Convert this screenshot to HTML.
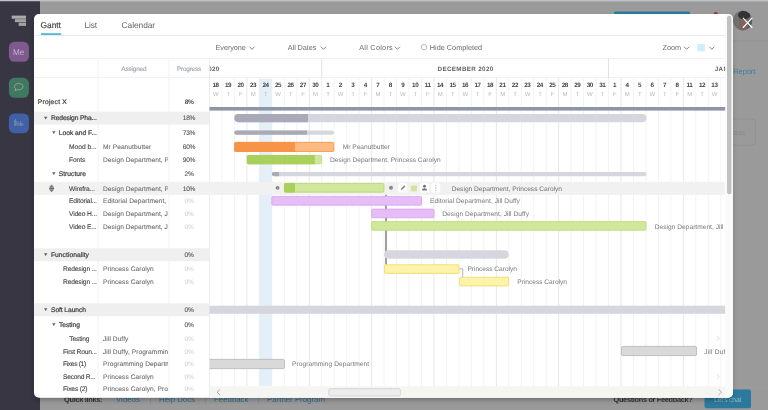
<!DOCTYPE html>
<html lang="en"><head><meta charset="utf-8"><title>Project X - Gantt</title>
<style>
html,body{margin:0;padding:0;}
body{width:768px;height:410px;overflow:hidden;position:relative;background:#9a9a9a;font-family:"Liberation Sans",sans-serif;}
.t{position:absolute;white-space:nowrap;line-height:normal;text-rendering:geometricPrecision;}
.l{position:absolute;left:0;top:0;overflow:hidden;}
.m{position:absolute;left:0;top:0;width:768px;height:410px;}
</style></head><body>
<svg class="l" width="768" height="410" viewBox="0 0 768 410"><rect x="0" y="0" width="768" height="1.4" fill="#bfc3c6"/><rect x="614" y="11.5" width="76.1" height="12" fill="#2b7a9e" rx="1.5"/><circle cx="715.8" cy="14.2" r="2.2" fill="#9c3549"/><rect x="40" y="40.6" width="728" height="0.8" fill="#929292"/><clipPath id="av"><ellipse cx="742.6" cy="20.6" rx="9.6" ry="9.9"/></clipPath><g clip-path="url(#av)"><rect x="732" y="10" width="22" height="22" fill="#717174"/><ellipse cx="750.2" cy="25.5" rx="3.6" ry="6" fill="#56575c"/><ellipse cx="743.3" cy="23" rx="5.2" ry="7.8" fill="#7d655e"/><ellipse cx="744.2" cy="15" rx="6.2" ry="4.4" fill="#333337"/></g></svg>
<span class="t" style="left:733.2px;top:67px;font-size:7.7px;color:#3f7f9f;letter-spacing:-0.18px;">Report</span>
<svg class="l" width="768" height="410" viewBox="0 0 768 410"><rect x="700" y="119" width="55.6" height="26.2" fill="none" rx="3.5" stroke="#8f8f8f" stroke-width="0.8"/></svg>
<span class="t" style="left:733.8px;top:131px;font-size:5.4px;color:#858585;letter-spacing:-0.20px;">2021</span>
<svg class="l" width="768" height="410" viewBox="0 0 768 410"><rect x="733" y="386.6" width="35" height="0.8" fill="#a0a0a0"/></svg>
<span class="t" style="left:64px;top:395px;font-size:7.4px;color:#3a3a3a;font-weight:700;letter-spacing:-0.31px;">Quick links:</span>
<span class="t" style="left:116px;top:395px;font-size:7.8px;color:#2f6f92;letter-spacing:0.06px;">Videos</span>
<span class="t" style="left:149.5px;top:395px;font-size:8px;color:#7a8a92;">|</span>
<span class="t" style="left:159px;top:395px;font-size:7.8px;color:#2f6f92;">Help Docs</span>
<span class="t" style="left:204.5px;top:395px;font-size:8px;color:#7a8a92;">|</span>
<span class="t" style="left:214px;top:395px;font-size:7.8px;color:#2f6f92;letter-spacing:0.03px;">Feedback</span>
<span class="t" style="left:257.5px;top:395px;font-size:8px;color:#7a8a92;">|</span>
<span class="t" style="left:267px;top:395px;font-size:7.8px;color:#2f6f92;letter-spacing:0.02px;">Partner Program</span>
<span class="t" style="left:613.5px;top:395px;font-size:7.4px;color:#3a3a3a;font-weight:700;letter-spacing:-0.33px;">Questions or Feedback?</span>
<svg class="l" width="768" height="410" viewBox="0 0 768 410"><rect x="704.5" y="389.6" width="46.5" height="18.6" fill="#2b7a9e" rx="2"/></svg>
<span class="t" style="left:714px;top:397px;font-size:6.9px;color:#8fb6c8;letter-spacing:-0.21px;">Let’s chat</span>
<svg class="l" width="768" height="410" viewBox="0 0 768 410"><rect x="0" y="1.3" width="40" height="409" fill="#393644"/><rect x="11.7" y="15.6" width="14.3" height="3.1" fill="#ababab"/><rect x="14.9" y="19.1" width="11.1" height="3.1" fill="#a2a2a2"/><rect x="18.7" y="22.7" width="7.3" height="3.2" fill="#a4a4a4"/><rect x="8.9" y="41.8" width="20" height="20" fill="#7e5a8f" rx="5.5"/></svg>
<span class="t" style="left:13px;top:48px;font-size:8.2px;color:#c2b1c9;letter-spacing:0.01px;">Me</span>
<svg class="l" width="768" height="410" viewBox="0 0 768 410"><rect x="8.9" y="77.8" width="20" height="20" fill="#3f7960" rx="5.5"/><path transform="translate(8.9 77.8)" d="M9.8 5.6c2.4 0 4.3 1.4 4.3 3.2s-1.9 3.2-4.3 3.2c-.5 0-1-.05-1.4-.17L6.2 12.9l.6-1.9C6 10.400 5.500 9.650 5.500 8.800c0-1.800 1.900-3.200 4.300-3.200z" fill="none" stroke="#b3a3a9" stroke-width="0.8"/><rect x="8.9" y="113.5" width="20" height="19.7" fill="#4160a8" rx="5.5"/><rect x="14.1" y="120.1" width="0.7" height="5.8" fill="#8da3ad" opacity="0.8"/><rect x="15.3" y="118.9" width="0.7" height="7" fill="#8da3ad" opacity="0.8"/><rect x="16.5" y="120.9" width="0.7" height="5" fill="#8da3ad" opacity="0.8"/><rect x="17.7" y="121.7" width="0.7" height="4.2" fill="#8da3ad" opacity="0.8"/><rect x="18.9" y="123.3" width="0.7" height="2.6" fill="#8da3ad" opacity="0.8"/><rect x="20.1" y="121.1" width="0.7" height="4.8" fill="#8da3ad" opacity="0.8"/><rect x="21.3" y="122.7" width="0.7" height="3.2" fill="#8da3ad" opacity="0.8"/><rect x="22.5" y="123.1" width="0.7" height="2.8" fill="#8da3ad" opacity="0.8"/></svg>
<div class="m" style="left:34.0px;top:14.0px;width:699.0px;height:383.7px;border-radius:5px;box-shadow:0 3px 5px -1px rgba(0,0,0,0.28);"></div>
<div class="m" style="clip-path:inset(14.0px 35.0px 12.3px 34.0px round 5px);">
<svg class="l" width="768" height="410" viewBox="0 0 768 410"><rect x="33" y="13" width="701" height="385.7" fill="#fff"/></svg>
<span class="t" style="left:40.5px;top:20px;font-size:8.4px;color:#444;letter-spacing:-0.01px;-webkit-text-stroke:0.15px #444;">Gantt</span>
<span class="t" style="left:84.6px;top:20px;font-size:8.4px;color:#666;letter-spacing:-0.16px;">List</span>
<span class="t" style="left:121.6px;top:20px;font-size:8.4px;color:#666;letter-spacing:-0.07px;">Calendar</span>
<svg class="l" width="768" height="410" viewBox="0 0 768 410"><rect x="41" y="33.2" width="20.2" height="1.9" fill="#53b7d6"/><rect x="34" y="35.2" width="699" height="0.9" fill="#e6e6e6"/></svg>
<span class="t" style="left:215.6px;top:43px;font-size:7.3px;color:#6d6d6d;letter-spacing:-0.09px;">Everyone</span>
<svg class="l" width="768" height="410" viewBox="0 0 768 410"><path d="M249.7 47 L252 49.3 L254.3 47" fill="none" stroke="#777" stroke-width="0.9" stroke-linecap="round" stroke-linejoin="round"/></svg>
<span class="t" style="left:287.8px;top:43px;font-size:7.3px;color:#6d6d6d;letter-spacing:-0.08px;">All Dates</span>
<svg class="l" width="768" height="410" viewBox="0 0 768 410"><path d="M321.1 47 L323.4 49.3 L325.7 47" fill="none" stroke="#777" stroke-width="0.9" stroke-linecap="round" stroke-linejoin="round"/></svg>
<span class="t" style="left:359.2px;top:43px;font-size:7.3px;color:#6d6d6d;letter-spacing:0.26px;">All Colors</span>
<svg class="l" width="768" height="410" viewBox="0 0 768 410"><path d="M395.1 47 L397.4 49.3 L399.7 47" fill="none" stroke="#777" stroke-width="0.9" stroke-linecap="round" stroke-linejoin="round"/><rect x="421.6" y="44.8" width="4.8" height="4.8" fill="#fff" rx="1" stroke="#a8a8a8" stroke-width="0.8"/></svg>
<span class="t" style="left:429.8px;top:43px;font-size:7.3px;color:#6d6d6d;letter-spacing:0.00px;">Hide Completed</span>
<span class="t" style="left:662.4px;top:43px;font-size:7.3px;color:#6d6d6d;letter-spacing:0.05px;">Zoom</span>
<svg class="l" width="768" height="410" viewBox="0 0 768 410"><path d="M684.3 47 L686.6 49.3 L688.9 47" fill="none" stroke="#777" stroke-width="0.9" stroke-linecap="round" stroke-linejoin="round"/><rect x="697.4" y="43.9" width="7.6" height="7.3" fill="#cdeefb" rx="1"/><path d="M709.5 47 L711.8 49.3 L714.1 47" fill="none" stroke="#777" stroke-width="0.9" stroke-linecap="round" stroke-linejoin="round"/><rect x="34" y="58" width="691.5" height="0.9" fill="#f1f1f1"/><rect x="34" y="77" width="691.5" height="0.9" fill="#f1f1f1"/></svg>
<span class="t" style="left:121.3px;top:66px;font-size:6.4px;color:#a0a3b0;letter-spacing:-0.15px;-webkit-text-stroke:0.12px #a0a3b0;">Assigned</span>
<span class="t" style="left:176.9px;top:66px;font-size:6.4px;color:#a0a3b0;letter-spacing:-0.19px;-webkit-text-stroke:0.12px #a0a3b0;">Progress</span>
<svg class="l" width="768" height="410" viewBox="0 0 768 410"><rect x="97.6" y="58.5" width="0.9" height="340" fill="#f1f1f1"/><rect x="168.6" y="58.5" width="0.9" height="340" fill="#f1f1f1"/><rect x="209" y="58.5" width="0.9" height="340" fill="#eaeaea"/><rect x="34" y="111.7" width="175.5" height="12.9" fill="#efefef"/><rect x="34" y="248.3" width="175.5" height="12.9" fill="#efefef"/><rect x="34" y="303.3" width="175.5" height="12.9" fill="#efefef"/><rect x="221.52" y="77.6" width="0.9" height="308.7" fill="#f2f2f2"/><rect x="233.99" y="77.6" width="0.9" height="308.7" fill="#f2f2f2"/><rect x="246.46" y="77.6" width="0.9" height="308.7" fill="#e5e5e5"/><rect x="258.93" y="77.6" width="0.9" height="308.7" fill="#f2f2f2"/><rect x="271.4" y="77.6" width="0.9" height="308.7" fill="#f2f2f2"/><rect x="283.87" y="77.6" width="0.9" height="308.7" fill="#f2f2f2"/><rect x="296.34" y="77.6" width="0.9" height="308.7" fill="#f2f2f2"/><rect x="308.81" y="77.6" width="0.9" height="308.7" fill="#e5e5e5"/><rect x="321.28" y="77.6" width="0.9" height="308.7" fill="#f2f2f2"/><rect x="333.75" y="77.6" width="0.9" height="308.7" fill="#f2f2f2"/><rect x="346.22" y="77.6" width="0.9" height="308.7" fill="#f2f2f2"/><rect x="358.69" y="77.6" width="0.9" height="308.7" fill="#f2f2f2"/><rect x="371.16" y="77.6" width="0.9" height="308.7" fill="#e5e5e5"/><rect x="383.63" y="77.6" width="0.9" height="308.7" fill="#f2f2f2"/><rect x="396.1" y="77.6" width="0.9" height="308.7" fill="#f2f2f2"/><rect x="408.57" y="77.6" width="0.9" height="308.7" fill="#f2f2f2"/><rect x="421.04" y="77.6" width="0.9" height="308.7" fill="#f2f2f2"/><rect x="433.51" y="77.6" width="0.9" height="308.7" fill="#e5e5e5"/><rect x="445.98" y="77.6" width="0.9" height="308.7" fill="#f2f2f2"/><rect x="458.45" y="77.6" width="0.9" height="308.7" fill="#f2f2f2"/><rect x="470.92" y="77.6" width="0.9" height="308.7" fill="#f2f2f2"/><rect x="483.39" y="77.6" width="0.9" height="308.7" fill="#f2f2f2"/><rect x="495.86" y="77.6" width="0.9" height="308.7" fill="#e5e5e5"/><rect x="508.33" y="77.6" width="0.9" height="308.7" fill="#f2f2f2"/><rect x="520.8" y="77.6" width="0.9" height="308.7" fill="#f2f2f2"/><rect x="533.27" y="77.6" width="0.9" height="308.7" fill="#f2f2f2"/><rect x="545.74" y="77.6" width="0.9" height="308.7" fill="#f2f2f2"/><rect x="558.21" y="77.6" width="0.9" height="308.7" fill="#e5e5e5"/><rect x="570.68" y="77.6" width="0.9" height="308.7" fill="#f2f2f2"/><rect x="583.15" y="77.6" width="0.9" height="308.7" fill="#f2f2f2"/><rect x="595.62" y="77.6" width="0.9" height="308.7" fill="#f2f2f2"/><rect x="608.09" y="77.6" width="0.9" height="308.7" fill="#f2f2f2"/><rect x="620.56" y="77.6" width="0.9" height="308.7" fill="#e5e5e5"/><rect x="633.03" y="77.6" width="0.9" height="308.7" fill="#f2f2f2"/><rect x="645.5" y="77.6" width="0.9" height="308.7" fill="#f2f2f2"/><rect x="657.97" y="77.6" width="0.9" height="308.7" fill="#f2f2f2"/><rect x="670.44" y="77.6" width="0.9" height="308.7" fill="#f2f2f2"/><rect x="682.91" y="77.6" width="0.9" height="308.7" fill="#e5e5e5"/><rect x="695.38" y="77.6" width="0.9" height="308.7" fill="#f2f2f2"/><rect x="707.85" y="77.6" width="0.9" height="308.7" fill="#f2f2f2"/><rect x="720.32" y="77.6" width="0.9" height="308.7" fill="#f2f2f2"/><rect x="259.08" y="78.6" width="12.97" height="307.7" fill="#e4eff8"/><rect x="321.28" y="58.5" width="0.9" height="19" fill="#dedede"/><rect x="608.09" y="58.5" width="0.9" height="19" fill="#dedede"/></svg>
<span class="t" style="left:212.56px;top:82px;font-size:6.3px;color:#454545;font-weight:700;letter-spacing:-0.45px;">18</span>
<span class="t" style="left:213px;top:92px;font-size:6px;color:#b9b9b9;">W</span>
<span class="t" style="left:225.03px;top:82px;font-size:6.3px;color:#454545;font-weight:700;letter-spacing:-0.45px;">19</span>
<span class="t" style="left:226.47px;top:92px;font-size:6px;color:#b9b9b9;">T</span>
<span class="t" style="left:237.5px;top:82px;font-size:6.3px;color:#454545;font-weight:700;letter-spacing:-0.45px;">20</span>
<span class="t" style="left:238.94px;top:92px;font-size:6px;color:#b9b9b9;">F</span>
<span class="t" style="left:249.97px;top:82px;font-size:6.3px;color:#454545;font-weight:700;letter-spacing:-0.45px;">23</span>
<span class="t" style="left:250.75px;top:92px;font-size:6px;color:#b9b9b9;">M</span>
<span class="t" style="left:262.44px;top:82px;font-size:6.3px;color:#454545;font-weight:700;letter-spacing:-0.45px;">24</span>
<span class="t" style="left:263.88px;top:92px;font-size:6px;color:#b9b9b9;">T</span>
<span class="t" style="left:274.91px;top:82px;font-size:6.3px;color:#454545;font-weight:700;letter-spacing:-0.45px;">25</span>
<span class="t" style="left:275.35px;top:92px;font-size:6px;color:#b9b9b9;">W</span>
<span class="t" style="left:287.38px;top:82px;font-size:6.3px;color:#454545;font-weight:700;letter-spacing:-0.45px;">26</span>
<span class="t" style="left:288.82px;top:92px;font-size:6px;color:#b9b9b9;">T</span>
<span class="t" style="left:299.85px;top:82px;font-size:6.3px;color:#454545;font-weight:700;letter-spacing:-0.45px;">27</span>
<span class="t" style="left:301.29px;top:92px;font-size:6px;color:#b9b9b9;">F</span>
<span class="t" style="left:312.32px;top:82px;font-size:6.3px;color:#454545;font-weight:700;letter-spacing:-0.45px;">30</span>
<span class="t" style="left:313.1px;top:92px;font-size:6px;color:#b9b9b9;">M</span>
<span class="t" style="left:326.31px;top:82px;font-size:6.3px;color:#454545;font-weight:700;letter-spacing:-0.45px;">1</span>
<span class="t" style="left:326.23px;top:92px;font-size:6px;color:#b9b9b9;">T</span>
<span class="t" style="left:338.78px;top:82px;font-size:6.3px;color:#454545;font-weight:700;letter-spacing:-0.45px;">2</span>
<span class="t" style="left:337.7px;top:92px;font-size:6px;color:#b9b9b9;">W</span>
<span class="t" style="left:351.25px;top:82px;font-size:6.3px;color:#454545;font-weight:700;letter-spacing:-0.45px;">3</span>
<span class="t" style="left:351.17px;top:92px;font-size:6px;color:#b9b9b9;">T</span>
<span class="t" style="left:363.72px;top:82px;font-size:6.3px;color:#454545;font-weight:700;letter-spacing:-0.45px;">4</span>
<span class="t" style="left:363.64px;top:92px;font-size:6px;color:#b9b9b9;">F</span>
<span class="t" style="left:376.19px;top:82px;font-size:6.3px;color:#454545;font-weight:700;letter-spacing:-0.45px;">7</span>
<span class="t" style="left:375.45px;top:92px;font-size:6px;color:#b9b9b9;">M</span>
<span class="t" style="left:388.66px;top:82px;font-size:6.3px;color:#454545;font-weight:700;letter-spacing:-0.45px;">8</span>
<span class="t" style="left:388.58px;top:92px;font-size:6px;color:#b9b9b9;">T</span>
<span class="t" style="left:401.13px;top:82px;font-size:6.3px;color:#454545;font-weight:700;letter-spacing:-0.45px;">9</span>
<span class="t" style="left:400.05px;top:92px;font-size:6px;color:#b9b9b9;">W</span>
<span class="t" style="left:412.08px;top:82px;font-size:6.3px;color:#454545;font-weight:700;letter-spacing:-0.45px;">10</span>
<span class="t" style="left:413.52px;top:92px;font-size:6px;color:#b9b9b9;">T</span>
<span class="t" style="left:424.72px;top:82px;font-size:6.3px;color:#454545;font-weight:700;letter-spacing:-0.45px;">11</span>
<span class="t" style="left:425.99px;top:92px;font-size:6px;color:#b9b9b9;">F</span>
<span class="t" style="left:437.02px;top:82px;font-size:6.3px;color:#454545;font-weight:700;letter-spacing:-0.45px;">14</span>
<span class="t" style="left:437.8px;top:92px;font-size:6px;color:#b9b9b9;">M</span>
<span class="t" style="left:449.49px;top:82px;font-size:6.3px;color:#454545;font-weight:700;letter-spacing:-0.45px;">15</span>
<span class="t" style="left:450.93px;top:92px;font-size:6px;color:#b9b9b9;">T</span>
<span class="t" style="left:461.96px;top:82px;font-size:6.3px;color:#454545;font-weight:700;letter-spacing:-0.45px;">16</span>
<span class="t" style="left:462.4px;top:92px;font-size:6px;color:#b9b9b9;">W</span>
<span class="t" style="left:474.43px;top:82px;font-size:6.3px;color:#454545;font-weight:700;letter-spacing:-0.45px;">17</span>
<span class="t" style="left:475.87px;top:92px;font-size:6px;color:#b9b9b9;">T</span>
<span class="t" style="left:486.9px;top:82px;font-size:6.3px;color:#454545;font-weight:700;letter-spacing:-0.45px;">18</span>
<span class="t" style="left:488.34px;top:92px;font-size:6px;color:#b9b9b9;">F</span>
<span class="t" style="left:499.37px;top:82px;font-size:6.3px;color:#454545;font-weight:700;letter-spacing:-0.45px;">21</span>
<span class="t" style="left:500.15px;top:92px;font-size:6px;color:#b9b9b9;">M</span>
<span class="t" style="left:511.84px;top:82px;font-size:6.3px;color:#454545;font-weight:700;letter-spacing:-0.45px;">22</span>
<span class="t" style="left:513.28px;top:92px;font-size:6px;color:#b9b9b9;">T</span>
<span class="t" style="left:524.31px;top:82px;font-size:6.3px;color:#454545;font-weight:700;letter-spacing:-0.45px;">23</span>
<span class="t" style="left:524.75px;top:92px;font-size:6px;color:#b9b9b9;">W</span>
<span class="t" style="left:536.78px;top:82px;font-size:6.3px;color:#454545;font-weight:700;letter-spacing:-0.45px;">24</span>
<span class="t" style="left:538.22px;top:92px;font-size:6px;color:#b9b9b9;">T</span>
<span class="t" style="left:549.25px;top:82px;font-size:6.3px;color:#454545;font-weight:700;letter-spacing:-0.45px;">25</span>
<span class="t" style="left:550.69px;top:92px;font-size:6px;color:#b9b9b9;">F</span>
<span class="t" style="left:561.72px;top:82px;font-size:6.3px;color:#454545;font-weight:700;letter-spacing:-0.45px;">28</span>
<span class="t" style="left:562.5px;top:92px;font-size:6px;color:#b9b9b9;">M</span>
<span class="t" style="left:574.19px;top:82px;font-size:6.3px;color:#454545;font-weight:700;letter-spacing:-0.45px;">29</span>
<span class="t" style="left:575.63px;top:92px;font-size:6px;color:#b9b9b9;">T</span>
<span class="t" style="left:586.66px;top:82px;font-size:6.3px;color:#454545;font-weight:700;letter-spacing:-0.45px;">30</span>
<span class="t" style="left:587.1px;top:92px;font-size:6px;color:#b9b9b9;">W</span>
<span class="t" style="left:599.13px;top:82px;font-size:6.3px;color:#454545;font-weight:700;letter-spacing:-0.45px;">31</span>
<span class="t" style="left:600.57px;top:92px;font-size:6px;color:#b9b9b9;">T</span>
<span class="t" style="left:613.12px;top:82px;font-size:6.3px;color:#454545;font-weight:700;letter-spacing:-0.45px;">1</span>
<span class="t" style="left:613.04px;top:92px;font-size:6px;color:#b9b9b9;">F</span>
<span class="t" style="left:625.59px;top:82px;font-size:6.3px;color:#454545;font-weight:700;letter-spacing:-0.45px;">4</span>
<span class="t" style="left:624.85px;top:92px;font-size:6px;color:#b9b9b9;">M</span>
<span class="t" style="left:638.06px;top:82px;font-size:6.3px;color:#454545;font-weight:700;letter-spacing:-0.45px;">5</span>
<span class="t" style="left:637.98px;top:92px;font-size:6px;color:#b9b9b9;">T</span>
<span class="t" style="left:650.53px;top:82px;font-size:6.3px;color:#454545;font-weight:700;letter-spacing:-0.45px;">6</span>
<span class="t" style="left:649.45px;top:92px;font-size:6px;color:#b9b9b9;">W</span>
<span class="t" style="left:663px;top:82px;font-size:6.3px;color:#454545;font-weight:700;letter-spacing:-0.45px;">7</span>
<span class="t" style="left:662.92px;top:92px;font-size:6px;color:#b9b9b9;">T</span>
<span class="t" style="left:675.47px;top:82px;font-size:6.3px;color:#454545;font-weight:700;letter-spacing:-0.45px;">8</span>
<span class="t" style="left:675.39px;top:92px;font-size:6px;color:#b9b9b9;">F</span>
<span class="t" style="left:686.59px;top:82px;font-size:6.3px;color:#454545;font-weight:700;letter-spacing:-0.45px;">11</span>
<span class="t" style="left:687.2px;top:92px;font-size:6px;color:#b9b9b9;">M</span>
<span class="t" style="left:698.89px;top:82px;font-size:6.3px;color:#454545;font-weight:700;letter-spacing:-0.45px;">12</span>
<span class="t" style="left:700.33px;top:92px;font-size:6px;color:#b9b9b9;">T</span>
<span class="t" style="left:711.36px;top:82px;font-size:6.3px;color:#454545;font-weight:700;letter-spacing:-0.45px;">13</span>
<span class="t" style="left:711.8px;top:92px;font-size:6px;color:#b9b9b9;">W</span>
<div class="m" style="clip-path:inset(58px 42.6px 333px 209.9px);">
<span class="t" style="left:163.6px;top:66px;font-size:6.3px;color:#646464;font-weight:700;letter-spacing:0.29px;">NOVEMBER 2020</span>
<span class="t" style="left:437.6px;top:66px;font-size:6.3px;color:#646464;font-weight:700;letter-spacing:0.32px;">DECEMBER 2020</span>
<span class="t" style="left:714.8px;top:66px;font-size:6.3px;color:#646464;font-weight:700;letter-spacing:0.32px;">JANUARY 2021</span>
</div>
<svg class="l" width="768" height="410" viewBox="0 0 768 410"><rect x="34" y="181.9" width="691.4" height="12.9" fill="#f1f1f1"/><rect x="209.5" y="107" width="515.9" height="3.6" fill="#8c97a3"/><clipPath id="gv"><rect x="209.5" y="58" width="515.9" height="340"/></clipPath><g clip-path="url(#gv)"><rect x="385.35" y="194.8" width="1.3" height="69.8" fill="#6e6e6e"/><path d="M459.4 268.8 H462.7 V277.2" fill="none" stroke="#9a9a9a" stroke-width="0.7"/><rect x="234.3" y="114" width="412.2" height="8.2" fill="#d6d6df" rx="4.1"/><path d="M238.4 114 H308 V122.2 H238.4 A4.1 4.1 0 0 1 234.3 118.1 V118.1 A4.1 4.1 0 0 1 238.4 114 Z" fill="#a9a9b8"/><rect x="234.3" y="130.4" width="99.7" height="4.4" fill="#d6d6df" rx="2.2"/><path d="M236.5 130.4 H307 V134.8 H236.5 A2.2 2.2 0 0 1 234.3 132.6 V132.6 A2.2 2.2 0 0 1 236.5 130.4 Z" fill="#a9a9b8"/><rect x="234.6" y="142.3" width="99.2" height="9.2" fill="#fdba82" rx="1.2" stroke="#f68f40" stroke-width="0.8"/><path d="M235.8 141.9 H295 V151.9 H235.8 A1.6 1.6 0 0 1 234.2 150.3 V143.5 A1.6 1.6 0 0 1 235.8 141.9 Z" fill="#f79447"/><rect x="247.3" y="155.4" width="74.3" height="8.4" fill="#d1e79b" rx="1.2" stroke="#b9d873" stroke-width="0.8"/><path d="M248.5 155 H314.8 V164.2 H248.5 A1.6 1.6 0 0 1 246.9 162.6 V156.6 A1.6 1.6 0 0 1 248.5 155 Z" fill="#a9d05a"/><rect x="271.8" y="171.9" width="374.7" height="4.3" fill="#d6d6df" rx="2.15"/><path d="M273.95 171.9 H279 V176.2 H273.95 A2.15 2.15 0 0 1 271.8 174.05 V174.05 A2.15 2.15 0 0 1 273.95 171.9 Z" fill="#a9a9b8"/><rect x="284.4" y="183.5" width="99.6" height="8.7" fill="#d1e79b" rx="1.2" stroke="#b9d873" stroke-width="0.8"/><path d="M285.6 183.1 H295 V192.6 H285.6 A1.6 1.6 0 0 1 284 191 V184.7 A1.6 1.6 0 0 1 285.6 183.1 Z" fill="#a9d05a"/><rect x="271.8" y="196.4" width="149.7" height="8.8" fill="#e7bdf8" rx="1.2" stroke="#d8a2ee" stroke-width="0.8"/><rect x="371.7" y="209.1" width="62.3" height="8.7" fill="#e7bdf8" rx="1.2" stroke="#d8a2ee" stroke-width="0.8"/><rect x="371.7" y="221.6" width="274.4" height="8.7" fill="#d1e79b" rx="1.2" stroke="#bcd978" stroke-width="0.8"/><rect x="384" y="250.2" width="124.8" height="8.6" fill="#d6d6df" rx="4.3"/><rect x="384.4" y="264.8" width="74.6" height="8.6" fill="#fef3ab" rx="1.2" stroke="#efd95e" stroke-width="0.8"/><rect x="459.6" y="277.3" width="49" height="8.6" fill="#fef3ab" rx="1.2" stroke="#efd95e" stroke-width="0.8"/><rect x="199.5" y="305.7" width="535.9" height="8.1" fill="#d6d6df"/><rect x="621.4" y="346.4" width="75.2" height="9.2" fill="#d9d9d9" rx="1.6" stroke="#b4b4b4" stroke-width="0.8"/><rect x="199.9" y="359.4" width="84.7" height="9.2" fill="#d9d9d9" rx="1.6" stroke="#b4b4b4" stroke-width="0.8"/></g></svg>
<span class="t" style="left:342.8px;top:144px;font-size:6.6px;color:#777777;letter-spacing:-0.01px;">Mr Peanutbutter</span>
<span class="t" style="left:330px;top:157px;font-size:6.6px;color:#777777;letter-spacing:0.01px;">Design Department, Princess Carolyn</span>
<span class="t" style="left:451.7px;top:186px;font-size:6.6px;color:#6f6f6f;">Design Department, Princess Carolyn</span>
<span class="t" style="left:430px;top:198px;font-size:6.6px;color:#777777;letter-spacing:0.04px;">Editorial Department, Jill Duffy</span>
<span class="t" style="left:442.3px;top:211px;font-size:6.6px;color:#777777;letter-spacing:0.05px;">Design Department, Jill Duffy</span>
<span class="t" style="left:654.8px;top:224px;font-size:6.6px;color:#777777;letter-spacing:0.02px;width:69.8px;overflow:hidden;">Design Department, Jill Duffy</span>
<span class="t" style="left:467.5px;top:266px;font-size:6.6px;color:#777777;letter-spacing:-0.03px;">Princess Carolyn</span>
<span class="t" style="left:517.3px;top:279px;font-size:6.6px;color:#777777;letter-spacing:-0.01px;">Princess Carolyn</span>
<span class="t" style="left:704.2px;top:349px;font-size:6.6px;color:#777777;letter-spacing:0.20px;width:20.6px;overflow:hidden;">Jill Duffy</span>
<span class="t" style="left:292px;top:361px;font-size:6.6px;color:#777777;letter-spacing:0.06px;">Programming Department</span>
<svg class="l" width="768" height="410" viewBox="0 0 768 410"><circle cx="277.6" cy="187.85" r="1.9" fill="#808080"/><circle cx="277.6" cy="187.85" r="0.7" fill="#b5b5b5"/><circle cx="391" cy="187.85" r="2" fill="#8a8a8a"/><rect x="398" y="183.3" width="9.2" height="9.2" fill="#fff" rx="1.6"/><path d="M400.7 190.0 l0.45 -1.6 3.1 -3.1 1.15 1.15 -3.1 3.1 z" fill="#858585"/><rect x="411" y="185.5" width="6" height="5.8" fill="#cfe69a" rx="0.8"/><rect x="420" y="183.3" width="9" height="9.2" fill="#fff" rx="1.6"/><circle cx="424.5" cy="186.3" r="1.45" fill="#777"/><path d="M421.9 190.6 c0 -3.200 5.200 -3.200 5.200 0 z" fill="#777"/><rect x="431.2" y="183.3" width="9" height="9.2" fill="#fff" rx="1.6"/><circle cx="435.8" cy="185.6" r="0.55" fill="#999"/><circle cx="435.8" cy="187.9" r="0.55" fill="#999"/><circle cx="435.8" cy="190.2" r="0.55" fill="#999"/></svg>
<span class="t" style="left:37.8px;top:99px;font-size:6.7px;color:#3f3f3f;letter-spacing:0.23px;-webkit-text-stroke:0.22px #3f3f3f;">Project X</span>
<span class="t" style="left:184.73px;top:99px;font-size:6.6px;color:#4a4a4a;font-weight:700;letter-spacing:-0.40px;">8%</span>
<span class="t" style="left:51px;top:115px;font-size:6.7px;color:#3f3f3f;letter-spacing:-0.12px;-webkit-text-stroke:0.22px #3f3f3f;">Redesign Pha...</span>
<svg class="l" width="768" height="410" viewBox="0 0 768 410"><path d="M44 116.7 h3.4 l-1.7 2.8 z" fill="#606060"/></svg>
<span class="t" style="left:182.7px;top:115px;font-size:6.6px;color:#555;letter-spacing:-0.20px;-webkit-text-stroke:0.12px #555;">18%</span>
<span class="t" style="left:58.8px;top:130px;font-size:6.7px;color:#3f3f3f;letter-spacing:-0.01px;-webkit-text-stroke:0.22px #3f3f3f;">Look and F...</span>
<svg class="l" width="768" height="410" viewBox="0 0 768 410"><path d="M52.1 131.3 h3.4 l-1.7 2.8 z" fill="#606060"/></svg>
<span class="t" style="left:182.7px;top:130px;font-size:6.6px;color:#555;letter-spacing:-0.20px;-webkit-text-stroke:0.12px #555;">73%</span>
<span class="t" style="left:69px;top:144px;font-size:6.7px;color:#444;letter-spacing:-0.04px;-webkit-text-stroke:0.1px #444;">Mood b...</span>
<span class="t" style="left:103px;top:144px;font-size:6.6px;color:#6c6c6c;letter-spacing:0.06px;width:64.9px;overflow:hidden;-webkit-text-stroke:0.08px #6c6c6c;">Mr Peanutbutter</span>
<span class="t" style="left:182.7px;top:144px;font-size:6.6px;color:#555;letter-spacing:-0.20px;-webkit-text-stroke:0.12px #555;">60%</span>
<span class="t" style="left:69px;top:157px;font-size:6.7px;color:#444;letter-spacing:-0.09px;-webkit-text-stroke:0.1px #444;">Fonts</span>
<span class="t" style="left:103px;top:157px;font-size:6.6px;color:#6c6c6c;letter-spacing:0.06px;width:64.9px;overflow:hidden;-webkit-text-stroke:0.08px #6c6c6c;">Design Department, Princess Carolyn</span>
<span class="t" style="left:182.7px;top:157px;font-size:6.6px;color:#555;letter-spacing:-0.20px;-webkit-text-stroke:0.12px #555;">90%</span>
<span class="t" style="left:58.8px;top:171px;font-size:6.7px;color:#3f3f3f;-webkit-text-stroke:0.22px #3f3f3f;">Structure</span>
<svg class="l" width="768" height="410" viewBox="0 0 768 410"><path d="M52.1 172.2 h3.4 l-1.7 2.8 z" fill="#606060"/></svg>
<span class="t" style="left:184.43px;top:171px;font-size:6.6px;color:#555;letter-spacing:-0.20px;-webkit-text-stroke:0.12px #555;">2%</span>
<span class="t" style="left:69px;top:186px;font-size:6.7px;color:#444;letter-spacing:-0.13px;-webkit-text-stroke:0.1px #444;">Wirefra...</span>
<span class="t" style="left:103px;top:186px;font-size:6.6px;color:#6c6c6c;letter-spacing:0.06px;width:64.9px;overflow:hidden;-webkit-text-stroke:0.08px #6c6c6c;">Design Department, Princess Carolyn</span>
<span class="t" style="left:182.7px;top:186px;font-size:6.6px;color:#555;letter-spacing:-0.20px;-webkit-text-stroke:0.12px #555;">10%</span>
<span class="t" style="left:69px;top:198px;font-size:6.7px;color:#444;letter-spacing:-0.16px;-webkit-text-stroke:0.1px #444;">Editorial...</span>
<span class="t" style="left:103px;top:198px;font-size:6.6px;color:#6c6c6c;letter-spacing:0.06px;width:64.9px;overflow:hidden;-webkit-text-stroke:0.08px #6c6c6c;">Editorial Department, Jill Duffy</span>
<span class="t" style="left:184.43px;top:198px;font-size:6.6px;color:#cbcbcb;letter-spacing:-0.20px;">0%</span>
<span class="t" style="left:69px;top:211px;font-size:6.7px;color:#444;letter-spacing:-0.14px;-webkit-text-stroke:0.1px #444;">Video H...</span>
<span class="t" style="left:103px;top:211px;font-size:6.6px;color:#6c6c6c;letter-spacing:0.06px;width:64.9px;overflow:hidden;-webkit-text-stroke:0.08px #6c6c6c;">Design Department, Jill Duffy</span>
<span class="t" style="left:184.43px;top:211px;font-size:6.6px;color:#cbcbcb;letter-spacing:-0.20px;">0%</span>
<span class="t" style="left:69px;top:224px;font-size:6.7px;color:#444;letter-spacing:-0.15px;-webkit-text-stroke:0.1px #444;">Video E...</span>
<span class="t" style="left:103px;top:224px;font-size:6.6px;color:#6c6c6c;letter-spacing:0.06px;width:64.9px;overflow:hidden;-webkit-text-stroke:0.08px #6c6c6c;">Design Department, Jill Duffy</span>
<span class="t" style="left:184.43px;top:224px;font-size:6.6px;color:#cbcbcb;letter-spacing:-0.20px;">0%</span>
<span class="t" style="left:51px;top:252px;font-size:6.7px;color:#3f3f3f;letter-spacing:0.03px;-webkit-text-stroke:0.22px #3f3f3f;">Functionality</span>
<svg class="l" width="768" height="410" viewBox="0 0 768 410"><path d="M44 253.3 h3.4 l-1.7 2.8 z" fill="#606060"/></svg>
<span class="t" style="left:184.43px;top:252px;font-size:6.6px;color:#555;letter-spacing:-0.20px;-webkit-text-stroke:0.12px #555;">0%</span>
<span class="t" style="left:63px;top:266px;font-size:6.7px;color:#444;letter-spacing:-0.16px;-webkit-text-stroke:0.1px #444;">Redesign ...</span>
<span class="t" style="left:103px;top:266px;font-size:6.6px;color:#6c6c6c;letter-spacing:0.06px;width:64.9px;overflow:hidden;-webkit-text-stroke:0.08px #6c6c6c;">Princess Carolyn</span>
<span class="t" style="left:184.43px;top:266px;font-size:6.6px;color:#cbcbcb;letter-spacing:-0.20px;">0%</span>
<span class="t" style="left:63px;top:279px;font-size:6.7px;color:#444;letter-spacing:-0.16px;-webkit-text-stroke:0.1px #444;">Redesign ...</span>
<span class="t" style="left:103px;top:279px;font-size:6.6px;color:#6c6c6c;letter-spacing:0.06px;width:64.9px;overflow:hidden;-webkit-text-stroke:0.08px #6c6c6c;">Princess Carolyn</span>
<span class="t" style="left:184.43px;top:279px;font-size:6.6px;color:#cbcbcb;letter-spacing:-0.20px;">0%</span>
<span class="t" style="left:51px;top:307px;font-size:6.7px;color:#3f3f3f;letter-spacing:-0.08px;-webkit-text-stroke:0.22px #3f3f3f;">Soft Launch</span>
<svg class="l" width="768" height="410" viewBox="0 0 768 410"><path d="M44 308.3 h3.4 l-1.7 2.8 z" fill="#606060"/></svg>
<span class="t" style="left:184.43px;top:307px;font-size:6.6px;color:#555;letter-spacing:-0.20px;-webkit-text-stroke:0.12px #555;">0%</span>
<span class="t" style="left:59px;top:322px;font-size:6.7px;color:#3f3f3f;letter-spacing:-0.04px;-webkit-text-stroke:0.22px #3f3f3f;">Testing</span>
<svg class="l" width="768" height="410" viewBox="0 0 768 410"><path d="M52.1 323.2 h3.4 l-1.7 2.8 z" fill="#606060"/></svg>
<span class="t" style="left:184.43px;top:322px;font-size:6.6px;color:#555;letter-spacing:-0.20px;-webkit-text-stroke:0.12px #555;">0%</span>
<span class="t" style="left:69.2px;top:336px;font-size:6.7px;color:#444;letter-spacing:-0.14px;-webkit-text-stroke:0.1px #444;">Testing</span>
<span class="t" style="left:103px;top:336px;font-size:6.6px;color:#6c6c6c;letter-spacing:0.06px;width:64.9px;overflow:hidden;-webkit-text-stroke:0.08px #6c6c6c;">Jill Duffy</span>
<span class="t" style="left:184.43px;top:336px;font-size:6.6px;color:#cbcbcb;letter-spacing:-0.20px;">0%</span>
<span class="t" style="left:63px;top:349px;font-size:6.7px;color:#444;letter-spacing:-0.21px;-webkit-text-stroke:0.1px #444;">First Roun...</span>
<span class="t" style="left:103px;top:349px;font-size:6.6px;color:#6c6c6c;letter-spacing:0.06px;width:64.9px;overflow:hidden;-webkit-text-stroke:0.08px #6c6c6c;">Jill Duffy, Programming Department</span>
<span class="t" style="left:184.43px;top:349px;font-size:6.6px;color:#cbcbcb;letter-spacing:-0.20px;">0%</span>
<span class="t" style="left:63px;top:361px;font-size:6.7px;color:#444;letter-spacing:-0.36px;-webkit-text-stroke:0.1px #444;">Fixes (1)</span>
<span class="t" style="left:103px;top:361px;font-size:6.6px;color:#6c6c6c;letter-spacing:0.06px;width:64.9px;overflow:hidden;-webkit-text-stroke:0.08px #6c6c6c;">Programming Department</span>
<span class="t" style="left:184.43px;top:361px;font-size:6.6px;color:#cbcbcb;letter-spacing:-0.20px;">0%</span>
<span class="t" style="left:63px;top:374px;font-size:6.7px;color:#444;letter-spacing:-0.24px;-webkit-text-stroke:0.1px #444;">Second R...</span>
<span class="t" style="left:103px;top:374px;font-size:6.6px;color:#6c6c6c;letter-spacing:0.06px;width:64.9px;overflow:hidden;-webkit-text-stroke:0.08px #6c6c6c;">Princess Carolyn</span>
<span class="t" style="left:184.43px;top:374px;font-size:6.6px;color:#cbcbcb;letter-spacing:-0.20px;">0%</span>
<span class="t" style="left:63px;top:386px;font-size:6.7px;color:#444;letter-spacing:-0.18px;-webkit-text-stroke:0.1px #444;">Fixes (2)</span>
<span class="t" style="left:103px;top:386px;font-size:6.6px;color:#6c6c6c;letter-spacing:0.06px;width:64.9px;overflow:hidden;-webkit-text-stroke:0.08px #6c6c6c;">Princess Carolyn, Programming Department</span>
<span class="t" style="left:184.43px;top:386px;font-size:6.6px;color:#cbcbcb;letter-spacing:-0.20px;">0%</span>
<svg class="l" width="768" height="410" viewBox="0 0 768 410"><path d="M51.6 184.6 L53.8 187 H49.4 Z M51.6 192.2 L53.8 189.8 H49.4 Z" fill="#777"/><ellipse cx="51.6" cy="188.4" rx="2.5" ry="2.1" fill="#8f8f8f"/><rect x="49.2" y="188" width="4.8" height="0.7" fill="#666"/><path d="M717.3 336.6 L719.1 338.4 L717.3 340.2" fill="none" stroke="#cfcfcf" stroke-width="0.8" stroke-linecap="round" stroke-linejoin="round"/><path d="M717.3 374.8 L719.1 376.6 L717.3 378.4" fill="none" stroke="#cfcfcf" stroke-width="0.8" stroke-linecap="round" stroke-linejoin="round"/><rect x="209.9" y="386.3" width="515.9" height="12" fill="#f5f5f2"/><rect x="328.85" y="388.65" width="71.5" height="7.3" fill="#ececec" rx="1.4" stroke="#cdcdcd" stroke-width="0.7"/><path d="M219.8 389.6 L217.1 392.2 L219.8 394.8" fill="none" stroke="#9a9a9a" stroke-width="0.8" stroke-linecap="round" stroke-linejoin="round"/><path d="M718.8 389.6 L721.5 392.2 L718.8 394.8" fill="none" stroke="#9a9a9a" stroke-width="0.8" stroke-linecap="round" stroke-linejoin="round"/><rect x="725.4" y="14" width="8.6" height="385" fill="#fafafa"/><rect x="727" y="15.8" width="4.5" height="178.4" fill="#c1c1c1" rx="2.25"/></svg>
</div>
<svg class="l" width="768" height="410" viewBox="0 0 768 410"><path d="M743.2 18.1 L752.0 27.5 M752.0 18.1 L743.2 27.5" fill="none" stroke="#ffffff" stroke-width="1.1" stroke-linecap="round"/></svg>
</body></html>
